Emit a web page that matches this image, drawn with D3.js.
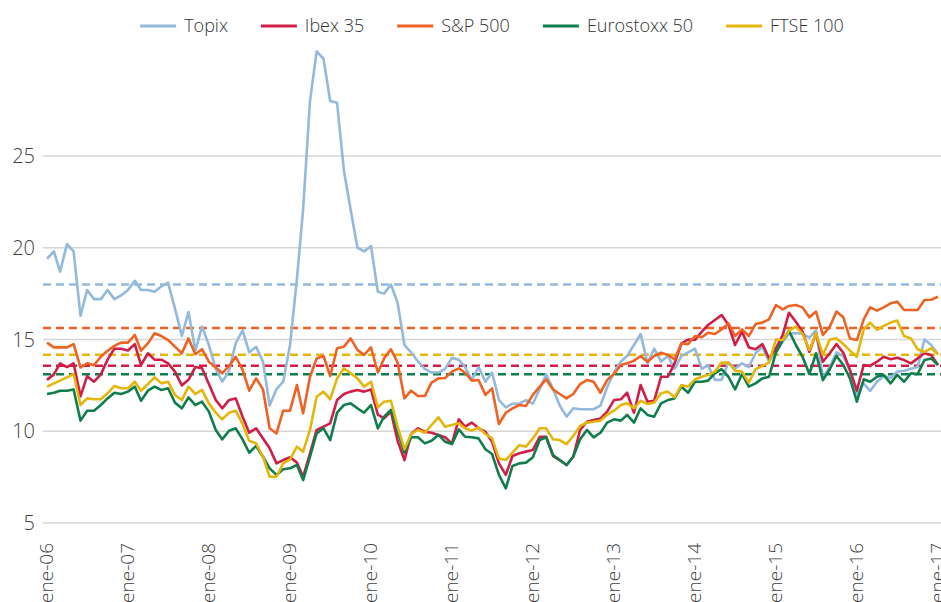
<!DOCTYPE html>
<html>
<head>
<meta charset="utf-8">
<script src="https://cdn.jsdelivr.net/npm/d3@7"></script>
<style>
  html, body { margin: 0; padding: 0; background: #fff; }
  svg { display: block; font-family: 'Open Sans', 'Noto Sans', sans-serif; font-weight: 300; }
</style>
</head>
<body>
<div id="chart"></div>
<script>
// Monthly volatility, ene-06 .. ene-17 (133 months)
const START = new Date(2006, 0, 1);
const SERIES_NAMES = ['Topix', 'Ibex 35', 'S&P 500', 'Eurostoxx 50', 'FTSE 100'];
const SERIES_COLORS = ['#93b9dd', '#cf1f48', '#ee6223', '#0f7d4c', '#e4b60c'];

const topix = [
  19.4, 19.8, 18.7, 20.2, 19.8, 16.3, 17.7, 17.2, 17.2, 17.7, 17.2, 17.4, 17.7, 18.2, 17.7, 17.7,
  17.6, 17.9, 18.1, 16.7, 15.2, 16.5, 14.4,
  15.7, 14.7, 13.4, 12.7, 13.3, 14.8, 15.5, 14.3, 14.6, 13.8, 11.4, 12.3, 12.7, 14.7,
  18.3, 22.1, 28.0, 30.7, 30.3, 28.0, 27.9, 24.2, 22.1, 20.0, 19.8, 20.1,
  17.6, 17.5, 18.0, 17.0, 14.7, 14.3, 13.8, 13.4, 13.2, 13.2, 13.4, 14.0, 13.9, 13.5, 12.8, 13.5,
  12.7, 13.2, 11.7, 11.3, 11.5, 11.5, 11.7, 11.5, 12.3, 13.1, 12.3, 11.4,
  10.8, 11.25, 11.2, 11.2, 11.2, 11.4, 12.4, 13.2, 13.8, 14.1, 14.7, 15.3, 13.7, 14.5, 13.8, 14.1,
  13.4, 14.1, 14.3, 14.5, 13.4, 13.6, 12.8, 12.8,
  13.75, 13.4, 13.7, 13.5, 14.25, 14.6, 13.8, 14.3, 14.9, 15.3, 15.35, 15.3, 15.1, 15.5, 12.9, 13.5,
  14.3, 14.1, 13.3, 12.0, 12.6, 12.2, 12.7, 13.0, 12.9, 13.25, 13.3, 13.4, 13.5, 15.0, 14.7, 14.2
];

const ibex = [
  12.8, 13.1, 13.7, 13.5, 13.7, 11.9, 13.0, 12.7, 13.1, 13.9, 14.5, 14.5, 14.4, 14.75, 13.6, 14.25,
  13.9, 13.9, 13.7, 13.25, 12.5, 12.8, 13.5,
  13.43, 12.57, 11.7, 11.25, 11.7, 11.79, 10.79, 9.92, 10.16, 9.61, 9.07, 8.25, 8.43, 8.58, 8.29, 7.52,
  8.8, 10.07, 10.25, 10.43, 11.7, 12.03, 12.16, 12.25, 12.16, 12.28, 10.9,
  10.7, 11.07, 9.48, 8.43, 9.85, 10.16, 9.98, 9.92, 9.8, 9.67, 9.34, 10.65, 10.25, 10.47, 10.16, 9.98,
  9.43, 8.25, 7.62, 8.65, 8.8, 8.89, 8.98, 9.7, 9.7, 8.65, 8.43,
  8.16, 8.61, 10.07, 10.52, 10.61, 10.7, 11.07, 11.7, 11.74, 12.1, 11.01, 12.52, 11.61, 11.66, 12.97, 12.97,
  13.7, 14.79, 15.0, 14.97, 15.43, 15.79, 16.06, 16.33,
  15.8, 14.7, 15.43, 14.57, 14.47, 14.75, 13.97, 14.52, 15.25, 16.46, 15.97, 15.43, 14.33, 15.34, 13.79, 14.25,
  14.75, 14.28, 13.34, 12.21, 13.61, 13.56, 13.79, 14.06, 13.92, 14.0, 13.88, 13.7, 13.97, 14.25, 14.16, 13.61
];

const sp500 = [
  14.83, 14.57, 14.57, 14.57, 14.75, 13.48, 13.7, 13.6, 14.06, 14.39, 14.65, 14.83, 14.83, 15.25, 14.39, 14.79,
  15.34, 15.19, 14.97, 14.61, 14.25, 15.06, 14.2,
  14.47, 13.79, 13.48, 13.16, 13.56, 14.06, 13.34, 12.21, 12.88, 12.28, 10.16, 9.88, 11.12, 11.12, 12.52, 10.98,
  12.97, 13.97, 14.1, 13.01, 14.52, 14.61, 15.06, 14.43, 14.16, 14.57, 13.2,
  13.97, 14.47, 13.74, 11.79, 12.21, 11.92, 11.92, 12.65, 12.88, 12.9, 13.25, 13.43, 13.19, 12.76, 12.79, 11.98,
  12.34, 10.39, 11.01, 11.25, 11.43, 11.38, 11.98, 12.43, 12.83, 12.28, 12.03,
  11.79, 12.03, 12.57, 12.79, 12.7, 12.1, 12.79, 13.12, 13.61, 13.7, 13.84, 14.1, 13.79, 14.1, 14.28, 14.16,
  13.92, 14.79, 14.75, 15.19, 15.12, 15.37, 15.3, 15.55,
  15.88, 15.19, 15.55, 15.19, 15.84, 15.92, 16.1, 16.88, 16.64, 16.83, 16.88, 16.75, 16.21, 16.52, 15.25, 15.7,
  16.52, 16.21, 15.06, 14.97, 16.1, 16.75, 16.57, 16.75, 16.97, 17.06, 16.61, 16.61, 16.61, 17.15, 17.17, 17.33
];

const eurostoxx = [
  12.03, 12.1, 12.21, 12.21, 12.28, 10.58, 11.12, 11.12, 11.43, 11.79, 12.1, 12.03, 12.16, 12.43, 11.66, 12.21,
  12.43, 12.25, 12.34, 11.56, 11.25, 11.85, 11.43,
  11.61, 11.07, 10.07, 9.56, 10.03, 10.16, 9.56, 8.83, 9.2, 8.61, 7.98, 7.62, 7.93, 7.98, 8.16, 7.34,
  8.61, 9.88, 10.16, 9.52, 11.01, 11.43, 11.52, 11.25, 11.01, 11.43, 10.16,
  10.79, 11.16, 9.98, 8.83, 9.67, 9.67, 9.34, 9.48, 9.8, 9.43, 9.3, 10.1, 9.7, 9.67, 9.61, 9.02,
  8.76, 7.62, 6.89, 8.11, 8.25, 8.29, 8.58, 9.52, 9.67, 8.7, 8.43,
  8.16, 8.61, 9.56, 10.07, 9.67, 9.92, 10.47, 10.65, 10.58, 10.89, 10.47, 11.25, 10.89, 10.79, 11.52, 11.7,
  11.79, 12.43, 12.1, 12.7, 12.7, 12.76, 13.16, 13.38,
  12.97, 12.28, 13.12, 12.43, 12.61, 12.88, 12.97, 14.28, 14.97, 15.48, 14.7, 14.06, 13.12, 14.25, 12.79, 13.38,
  14.1, 13.61, 12.88, 11.61, 12.83, 12.7, 12.97, 13.07, 12.61, 13.07, 12.7, 13.16, 13.12, 13.88, 13.97, 13.61
];

const ftse = [
  12.43, 12.61, 12.76, 12.94, 13.12, 11.43, 11.79, 11.74, 11.74, 12.07, 12.47, 12.34, 12.34, 12.7, 12.21, 12.57,
  12.94, 12.61, 12.7, 11.98, 11.7, 12.43, 12.03,
  12.25, 11.52, 11.01, 10.65, 11.01, 11.12, 10.39, 9.48, 9.34, 8.61, 7.52, 7.52, 8.25, 8.47, 9.16, 8.89,
  10.07, 11.88, 12.16, 11.74, 12.88, 13.43, 13.16, 12.88, 12.43, 12.7, 11.3,
  11.61, 11.66, 10.25, 9.02, 9.85, 10.07, 9.92, 10.34, 10.76, 10.25, 10.34, 10.43, 10.16, 10.03, 10.21, 9.85,
  9.61, 8.52, 8.43, 8.83, 9.25, 9.16, 9.61, 10.16, 10.16, 9.56, 9.52,
  9.3, 9.74, 10.29, 10.47, 10.52, 10.58, 10.89, 11.12, 11.43, 11.52, 11.25, 11.66, 11.48, 11.56, 12.07, 12.16,
  11.85, 12.52, 12.43, 12.83, 12.97, 13.07, 13.25, 13.74,
  13.74, 13.3, 13.25, 12.65, 13.38, 13.56, 13.74, 15.0, 14.97, 15.48, 15.7, 15.3, 14.43, 15.34, 14.16, 15.0,
  15.06, 14.75, 14.39, 14.06, 15.55, 15.92, 15.52, 15.74, 15.92, 16.03, 15.19, 15.06, 14.47, 14.33, 14.52, 14.2
];

// long-run averages (dashed lines)
const averages = [18.0, 13.57, 15.62, 13.1, 14.17];
const Y_TICKS = [5, 10, 15, 20, 25];

const WIDTH = 941;
const HEIGHT = 602;
const PLOT = { left: 43, right: 941, x0: 47, x1: 938, yBottom: 523, yTop: 156 };

const values = [topix, ibex, sp500, eurostoxx, ftse];
const months = d3.range(topix.length).map((i) => d3.timeMonth.offset(START, i));
const years = d3.timeYear.range(START, d3.timeMonth.offset(months[months.length - 1], 1));
const fmtTick = (d) => 'ene-' + d3.timeFormat('%y')(d);

const x = d3.scaleTime()
  .domain([months[0], months[months.length - 1]])
  .range([PLOT.x0, PLOT.x1]);

const y = d3.scaleLinear()
  .domain([5, 25])
  .range([PLOT.yBottom, PLOT.yTop]);

const svg = d3.select('#chart')
  .append('svg')
  .attr('width', WIDTH)
  .attr('height', HEIGHT);

// gridlines
svg.append('g')
  .selectAll('line')
  .data(Y_TICKS)
  .join('line')
  .attr('x1', PLOT.left)
  .attr('x2', PLOT.right)
  .attr('y1', (d) => y(d))
  .attr('y2', (d) => y(d))
  .attr('stroke', '#d6d6d6')
  .attr('stroke-width', 1.5);

svg.append('g')
  .selectAll('text')
  .data(Y_TICKS)
  .join('text')
  .attr('x', 35)
  .attr('y', (d) => y(d))
  .attr('dy', '0.36em')
  .attr('text-anchor', 'end')
  .attr('font-size', '20px')
  .attr('fill', '#404040')
  .text((d) => d);

// x tick labels, rotated
svg.append('g')
  .selectAll('text')
  .data(years)
  .join('text')
  .attr('transform', (d) => `translate(${x(d) - 1},${PLOT.yBottom + 20}) rotate(-90)`)
  .attr('dy', '0.36em')
  .attr('text-anchor', 'end')
  .attr('font-size', '19px')
  .attr('fill', '#404040')
  .text(fmtTick);

// average lines
svg.append('g')
  .selectAll('line')
  .data(averages)
  .join('line')
  .attr('x1', PLOT.left)
  .attr('x2', PLOT.right)
  .attr('y1', (d) => y(d))
  .attr('y2', (d) => y(d))
  .attr('stroke', (_, i) => SERIES_COLORS[i])
  .attr('stroke-width', 2.5)
  .attr('stroke-dasharray', '8,5');

const line = d3.line()
  .x((_, i) => x(months[i]))
  .y((d) => y(d));

svg.append('g')
  .selectAll('path')
  .data(values)
  .join('path')
  .attr('d', line)
  .attr('fill', 'none')
  .attr('stroke', (_, i) => SERIES_COLORS[i])
  .attr('stroke-width', 2.6)
  .attr('stroke-linejoin', 'round');

// legend, laid out left to right and centred over the plot
const legend = svg.append('g').attr('transform', 'translate(0,26)');
const items = legend.selectAll('g')
  .data(SERIES_NAMES)
  .join('g');

items.append('line')
  .attr('x1', 0)
  .attr('x2', 36)
  .attr('stroke', (_, i) => SERIES_COLORS[i])
  .attr('stroke-width', 3);

items.append('text')
  .attr('x', 44)
  .attr('dy', '0.35em')
  .attr('font-size', '18px')
  .attr('fill', '#333')
  .text((d) => d);

const widths = [];
items.each(function () {
  widths.push(44 + this.querySelector('text').getComputedTextLength());
});
const GAP = 33;
const total = d3.sum(widths) + GAP * (widths.length - 1);
let offset = (PLOT.left + PLOT.right) / 2 - total / 2;
items.attr('transform', (_, i) => {
  const tx = offset;
  offset += widths[i] + GAP;
  return `translate(${tx},0)`;
});
</script>
</body>
</html>
